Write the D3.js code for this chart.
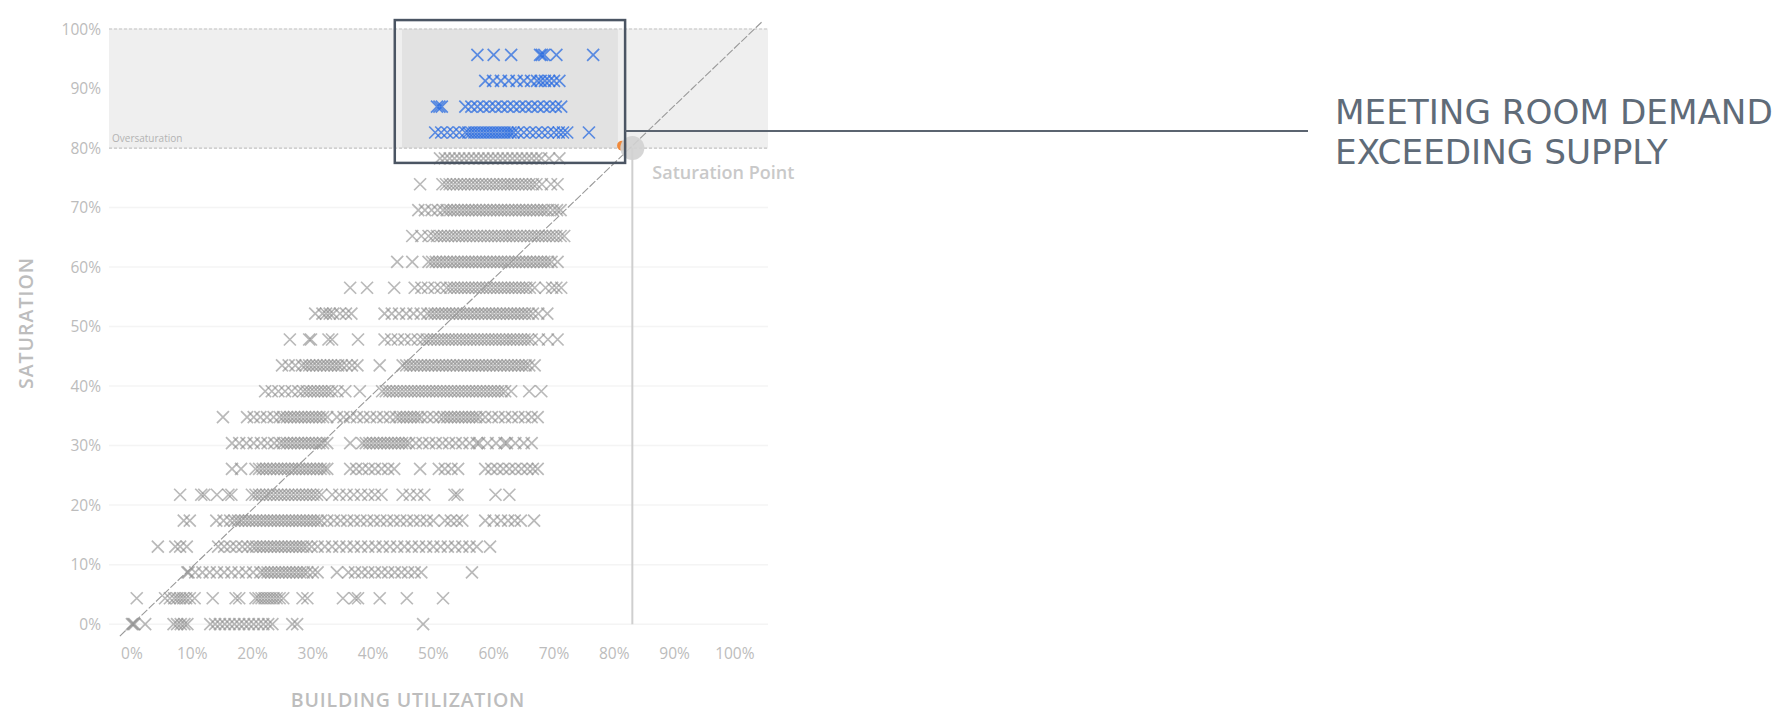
<!DOCTYPE html>
<html>
<head>
<meta charset="utf-8">
<script src="https://cdn.jsdelivr.net/npm/d3@7"></script>
<style>
body { margin: 0; background: #fff; }
</style>
</head>
<body>
<div id="chart"></div>
<script>
// saturation levels (share of rooms booked, k/23) – one row of marks per level
var satLevels = [0, 4.35, 8.7, 13.04, 17.39, 21.74, 26.09, 30.43, 34.78, 39.13, 43.48, 47.83,
    52.17, 56.52, 60.87, 65.22, 69.57, 73.91, 78.26, 82.61, 86.96, 91.3, 95.65];

// building utilization (%) of every observation, per saturation level
var row0 = [0, 0.2, 0.4, 2.2, 6.9, 7.5, 8.1, 8.7, 9.2, 13, 13.8, 14.6, 15.4, 16.2, 17, 17.8, 18.6, 19.4, 20.2, 21, 21.8, 22.6, 23.3, 26.6, 27.4, 48.3];
var row1 = [0.8, 5.5, 6.3, 7, 7.5, 8, 8.5, 9, 9.6, 10.4, 13.4, 17.2, 17.8, 20.5, 21, 21.5, 22, 22.5, 23, 23.5, 24, 24.5, 25.1, 28.3, 29.1, 35, 37, 37.5, 41.1, 45.6, 51.6];
var row2 = [9.2, 9.4, 10.5, 11.7, 12.9, 14.1, 15.3, 16.5, 17.7, 18.9, 20.1, 21.3, 21.9, 22.5, 23.1, 23.7, 24.3, 24.9, 25.5, 26.1, 26.7, 27.3, 27.9, 28.5, 29.1, 30, 30.8, 34, 35.9, 37, 38.1, 39.2, 40.3, 41.4, 42.5, 43.6, 44.7, 45.8, 46.9, 48, 56.4];
var row3 = [4.3, 7.2, 8, 9.1, 14.3, 15.3, 16.3, 17.3, 18.3, 19.2, 20, 20.6, 21.2, 21.8, 22.4, 23, 23.6, 24.2, 24.8, 25.4, 26, 26.6, 27.2, 27.8, 28.4, 29, 29.8, 30.8, 32, 33.2, 34.4, 35.6, 36.8, 38, 39.2, 40.4, 41.6, 42.8, 44, 45.2, 46.4, 47.6, 48.8, 50, 51.2, 52.4, 53.6, 54.8, 56, 57.2, 59.4];
var row4 = [8.6, 9.6, 14, 15.2, 16.3, 17, 17.6, 18.2, 18.8, 19.4, 20, 20.6, 21.2, 21.8, 22.4, 23, 23.6, 24.2, 24.8, 25.4, 26, 26.6, 27.2, 27.8, 28.4, 29, 29.6, 30.2, 30.8, 31.4, 32.4, 33.5, 34.6, 35.7, 36.8, 37.9, 39, 40.1, 41.2, 42.3, 43.4, 44.5, 45.6, 46.7, 47.8, 48.9, 50, 51.9, 52.9, 53.9, 54.8, 58.6, 60, 61.2, 62.4, 63.5, 64.5, 66.7];
var row5 = [8, 11.5, 12, 14.1, 16, 16.5, 19.9, 20.5, 21.1, 21.7, 22.3, 22.9, 23.5, 24.1, 24.7, 25.3, 25.9, 26.5, 27.1, 27.7, 28.3, 28.9, 29.5, 30.1, 30.7, 31.4, 33.2, 34.4, 35.6, 36.8, 38, 39.2, 40.3, 41.4, 44.9, 46.1, 47.3, 48.5, 53.5, 54, 60.3, 62.6];
var row6 = [16.6, 18.1, 20.5, 21.1, 21.7, 22.3, 22.9, 23.5, 24.1, 24.7, 25.3, 25.9, 26.5, 27.1, 27.7, 28.3, 28.9, 29.5, 30.1, 30.7, 31.3, 31.9, 32.4, 36.2, 37.2, 38.2, 39.3, 40.3, 41.4, 42.5, 43.5, 47.8, 50.9, 51.9, 53, 54.1, 58.6, 59.6, 60.6, 61.6, 62.6, 63.6, 64.6, 65.6, 66.5, 67.3];
var row7 = [16.6, 17.8, 19, 20.2, 21.4, 22.5, 23.6, 24.5, 25.1, 25.7, 26.3, 26.9, 27.5, 28.1, 28.7, 29.3, 29.9, 30.5, 31.1, 31.7, 32.4, 36.2, 38.2, 38.8, 39.4, 40, 40.6, 41.2, 41.8, 42.4, 43, 43.6, 44.2, 44.8, 45.4, 46, 47.1, 48.2, 49.3, 50.4, 51.5, 52.6, 53.7, 54.8, 56, 57.2, 57.6, 59, 60.4, 61.8, 62.2, 63.6, 65, 66.3];
var row8 = [15.1, 19.1, 20.2, 21.3, 22.4, 23.5, 24.5, 25.1, 25.7, 26.3, 26.9, 27.5, 28.1, 28.7, 29.3, 29.9, 30.5, 31.1, 31.7, 32.4, 34, 35.1, 36.2, 37.3, 38.4, 39.5, 40.6, 41.7, 42.8, 43.8, 44.4, 45, 45.6, 46.2, 46.8, 47.4, 48, 49, 50, 51, 51.7, 52.3, 52.9, 53.5, 54.1, 54.7, 55.3, 55.9, 56.5, 57.1, 57.7, 58.6, 59.7, 60.8, 61.9, 63, 64.1, 65.2, 66.3, 67.3];
var row9 = [22.1, 23.2, 24.3, 25.4, 26.5, 27.6, 28.4, 29, 29.6, 30.2, 30.8, 31.4, 32, 32.6, 33.2, 34.1, 35.4, 37.8, 41.5, 42.1, 42.7, 43.3, 43.9, 44.5, 45.1, 45.7, 46.3, 46.9, 47.5, 48.1, 48.7, 49.3, 49.9, 50.5, 51.1, 51.7, 52.3, 52.9, 53.5, 54.1, 54.7, 55.3, 55.9, 56.5, 57.1, 57.7, 58.3, 58.9, 59.5, 60.1, 60.7, 61.3, 61.9, 62.9, 65.9, 67.9];
var row10 = [24.9, 26, 27.1, 28.2, 28.8, 29.4, 30, 30.6, 31.2, 31.8, 32.4, 33, 33.6, 34.2, 34.8, 35.6, 36.5, 37.4, 41.1, 44.9, 45.5, 46.1, 46.7, 47.3, 47.9, 48.5, 49.1, 49.7, 50.3, 50.9, 51.5, 52.1, 52.7, 53.3, 53.9, 54.5, 55.1, 55.7, 56.3, 56.9, 57.5, 58.1, 58.7, 59.3, 59.9, 60.5, 61.1, 61.7, 62.3, 62.9, 63.5, 64.1, 64.7, 65.3, 65.9, 66.8];
var row11 = [26.2, 29.4, 29.7, 32.6, 33.2, 37.5, 41.9, 43, 44.1, 45.2, 46.3, 47.4, 48.3, 48.9, 49.5, 50.1, 50.7, 51.3, 51.9, 52.5, 53.1, 53.7, 54.3, 54.9, 55.5, 56.1, 56.7, 57.3, 57.9, 58.5, 59.1, 59.7, 60.3, 60.9, 61.5, 62.1, 62.7, 63.3, 63.9, 64.5, 65.1, 65.7, 66.3, 67.5, 69, 70.6];
var row12 = [30.4, 31.6, 32.2, 32.8, 33.4, 34.5, 35.5, 36.4, 41.9, 43.1, 44.3, 45.5, 46.7, 47.9, 49, 49.6, 50.2, 50.8, 51.4, 52, 52.6, 53.2, 53.8, 54.4, 55, 55.6, 56.2, 56.8, 57.4, 58, 58.6, 59.2, 59.8, 60.4, 61, 61.6, 62.2, 62.8, 63.4, 64, 64.6, 65.2, 65.8, 66.5, 67.4, 68.9];
var row13 = [36.2, 39, 43.5, 46.9, 48, 49.1, 50.2, 51.2, 52.2, 52.8, 53.4, 54, 54.6, 55.2, 55.8, 56.4, 57, 57.6, 58.2, 58.8, 59.4, 60, 60.6, 61.2, 61.8, 62.4, 63, 63.6, 64.2, 64.8, 65.4, 66, 66.8, 68.6, 69.7, 70.4, 71.2];
var row14 = [44, 46.5, 49.2, 49.8, 50.4, 51, 51.6, 52.2, 52.8, 53.4, 54, 54.6, 55.2, 55.8, 56.4, 57, 57.6, 58.2, 58.8, 59.4, 60, 60.6, 61.2, 61.8, 62.4, 63, 63.6, 64.2, 64.8, 65.4, 66, 66.6, 67.2, 67.8, 68.4, 69, 69.6, 70.6];
var row15 = [46.5, 48, 49.2, 50, 50.6, 51.2, 51.8, 52.4, 53, 53.6, 54.2, 54.8, 55.4, 56, 56.6, 57.2, 57.8, 58.4, 59, 59.6, 60.2, 60.8, 61.4, 62, 62.6, 63.2, 63.8, 64.4, 65, 65.6, 66.2, 66.8, 67.4, 68, 68.6, 69.2, 69.8, 70.4, 71.1, 71.7];
var row16 = [47.5, 48.6, 49.7, 50.7, 51.6, 52.2, 52.8, 53.4, 54, 54.6, 55.2, 55.8, 56.4, 57, 57.6, 58.2, 58.8, 59.4, 60, 60.6, 61.2, 61.8, 62.4, 63, 63.6, 64.2, 64.8, 65.4, 66, 66.6, 67.2, 67.8, 68.4, 69, 69.8, 70.5, 71.1];
var row17 = [47.8, 51.5, 52.1, 52.7, 53.3, 53.9, 54.5, 55.1, 55.7, 56.3, 56.9, 57.5, 58.1, 58.7, 59.3, 59.9, 60.5, 61.1, 61.7, 62.3, 62.9, 63.5, 64.1, 64.7, 65.3, 65.9, 66.5, 67.1, 68, 69.5, 70.6];
var row18 = [51.1, 51.9, 52.7, 53.5, 54.3, 55.1, 55.9, 56.7, 57.5, 58.3, 59.1, 59.9, 60.7, 61.5, 62.3, 63.1, 63.9, 64.7, 65.5, 66.3, 67.1, 67.9, 69.2, 70.9];
var row19 = [50.3, 51.3, 52.3, 53.3, 54.3, 55.3, 55.8, 56.3, 56.8, 57.3, 57.8, 58.3, 58.8, 59.3, 59.8, 60.3, 60.8, 61.3, 61.8, 62.3, 62.8, 63.3, 64, 65, 66, 67, 68, 69, 70, 70.8, 71.5, 72.2, 75.8];
var row20 = [50.6, 51, 51.4, 55.3, 56.3, 57.3, 58.3, 59.3, 60.3, 61.3, 62.3, 63.3, 64.3, 65.3, 66.3, 67.3, 68.3, 69.3, 70.3, 71.2];
var row21 = [58.6, 59.9, 61.2, 62.5, 63.8, 65, 66.2, 67.2, 67.8, 68.5, 69.2, 70, 70.9];
var row22 = [57.3, 60, 62.9, 67.7, 68, 68.4, 70.4, 76.5];

var utilRows = [row0, row1, row2, row3, row4, row5, row6, row7, row8, row9, row10, row11,
    row12, row13, row14, row15, row16, row17, row18, row19, row20, row21, row22];

var xTicks = [0, 10, 20, 30, 40, 50, 60, 70, 80, 90, 100];
var yTicks = [0, 10, 20, 30, 40, 50, 60, 70, 80, 90, 100];
var oversatBand = [80, 100];
var diagonal = [[-2, -2], [104.6, 101.3]];
var satPoint = [83, 80];

var W = 1785, H = 713;
var xDomain = [-3.8, 105.5], yDomain = [-3, 100];

var x = d3.scaleLinear().domain(xDomain).range([109, 768]);
var y = d3.scaleLinear().domain(yDomain).range([642, 29]);

var svg = d3.select("#chart").append("svg")
    .attr("width", W).attr("height", H)
    .style("display", "block")
    .style("font-family", "'Open Sans', 'Noto Sans', sans-serif");

// light horizontal gridlines
svg.append("g").selectAll("line").data(yTicks).enter().append("line")
    .attr("x1", x(xDomain[0])).attr("x2", x(xDomain[1]))
    .attr("y1", function (d) { return y(d); }).attr("y2", function (d) { return y(d); })
    .attr("stroke", "#f4f4f4").attr("stroke-width", 1.5);

// oversaturation band
svg.append("rect")
    .attr("x", x(xDomain[0])).attr("width", x(xDomain[1]) - x(xDomain[0]))
    .attr("y", y(oversatBand[1])).attr("height", y(oversatBand[0]) - y(oversatBand[1]))
    .attr("fill", "#efefef");
svg.append("rect")
    .attr("x", x(44.8)).attr("width", x(80.6) - x(44.8))
    .attr("y", y(oversatBand[1])).attr("height", y(oversatBand[0]) - y(oversatBand[1]))
    .attr("fill", "#e2e2e2");
svg.append("g").selectAll("line").data(oversatBand).enter().append("line")
    .attr("x1", x(xDomain[0])).attr("x2", x(xDomain[1]))
    .attr("y1", function (d) { return y(d); }).attr("y2", function (d) { return y(d); })
    .attr("stroke", "#c4c4c4").attr("stroke-width", 1.2)
    .attr("stroke-dasharray", "3,2");
svg.append("text")
    .attr("x", x(xDomain[0]) + 3).attr("y", y(oversatBand[0]) - 6)
    .attr("font-size", 10).attr("fill", "#b3b3b3")
    .text("Oversaturation");

// axis tick labels
svg.append("g").selectAll("text").data(yTicks).enter().append("text")
    .attr("x", 101).attr("y", function (d) { return y(d); })
    .attr("dy", "0.36em").attr("text-anchor", "end")
    .attr("font-size", 15.5).attr("fill", "#bcbcbc")
    .text(function (d) { return d + "%"; });
svg.append("g").selectAll("text").data(xTicks).enter().append("text")
    .attr("x", function (d) { return x(d); }).attr("y", 653)
    .attr("dy", "0.36em").attr("text-anchor", "middle")
    .attr("font-size", 15.5).attr("fill", "#bcbcbc")
    .text(function (d) { return d + "%"; });

// axis titles
svg.append("text")
    .attr("transform", "translate(33,323) rotate(-90)")
    .attr("text-anchor", "middle")
    .attr("font-size", 19.5).attr("font-weight", 600)
    .attr("letter-spacing", 1)
    .attr("fill", "#bdbdbd")
    .text("SATURATION");
svg.append("text")
    .attr("x", 408).attr("y", 707)
    .attr("text-anchor", "middle")
    .attr("font-size", 19.5).attr("font-weight", 600)
    .attr("letter-spacing", 0.8)
    .attr("fill", "#bdbdbd")
    .text("BUILDING UTILIZATION");

// saturation point guide
svg.append("line")
    .attr("x1", x(satPoint[0])).attr("x2", x(satPoint[0]))
    .attr("y1", y(satPoint[1])).attr("y2", y(0))
    .attr("stroke", "#cfcfcf").attr("stroke-width", 2);

// observations
var points = [];
utilRows.forEach(function (row, k) {
    row.forEach(function (u) {
        points.push({ util: u, sat: satLevels[k] });
    });
});

var cross = "M-6,-6L6,6M-6,6L6,-6";
svg.append("g").selectAll("path").data(points).enter().append("path")
    .attr("d", cross)
    .attr("transform", function (d) { return "translate(" + x(d.util) + "," + y(d.sat) + ")"; })
    .attr("fill", "none")
    .attr("stroke", function (d) { return d.sat > 80 ? "#2468e0" : "#8a8a8a"; })
    .attr("stroke-opacity", function (d) { return d.sat > 80 ? 0.72 : 0.6; })
    .attr("stroke-width", 1.7);

// 1:1 diagonal
svg.append("line")
    .attr("x1", x(diagonal[0][0])).attr("y1", y(diagonal[0][1]))
    .attr("x2", x(diagonal[1][0])).attr("y2", y(diagonal[1][1]))
    .attr("stroke", "#999").attr("stroke-width", 1.1)
    .attr("stroke-dasharray", "8,2");

svg.append("circle")
    .attr("cx", x(81.3)).attr("cy", y(80.4)).attr("r", 5)
    .attr("fill", "#f08a3c");
svg.append("circle")
    .attr("cx", x(satPoint[0])).attr("cy", y(satPoint[1])).attr("r", 12)
    .attr("fill", "#d2d2d2").attr("fill-opacity", 0.9);
svg.append("text")
    .attr("x", x(satPoint[0]) + 20).attr("y", y(satPoint[1]) + 24)
    .attr("dy", "0.36em")
    .attr("font-size", 18).attr("font-weight", 600)
    .attr("fill", "#c9c9c9")
    .text("Saturation Point");

// annotation box around the oversaturated observations
var box = { x0: 43.6, x1: 81.8, y0: 77.5, y1: 101.5 };
svg.append("rect")
    .attr("x", x(box.x0)).attr("y", y(box.y1))
    .attr("width", x(box.x1) - x(box.x0)).attr("height", y(box.y0) - y(box.y1))
    .attr("fill", "none").attr("stroke", "#4b5563").attr("stroke-width", 2.5);
svg.append("line")
    .attr("x1", x(box.x1)).attr("x2", 1308)
    .attr("y1", 131).attr("y2", 131)
    .attr("stroke", "#5b6470").attr("stroke-width", 2);

var note = svg.append("g")
    .style("font-family", "'DejaVu Sans', sans-serif")
    .attr("fill", "#5f6b78")
    .attr("font-size", 34);
var l1 = note.append("text").attr("x", 1335).attr("y", 124).text("MEETING ROOM DEMAND");
var l2 = note.append("text").attr("x", 1335).attr("y", 164).text("EXCEEDING SUPPLY");
// size the lettering to the reference's line length
var fs = 34 * 438 / l1.node().getComputedTextLength();
note.attr("font-size", fs);
</script>
</body>
</html>
